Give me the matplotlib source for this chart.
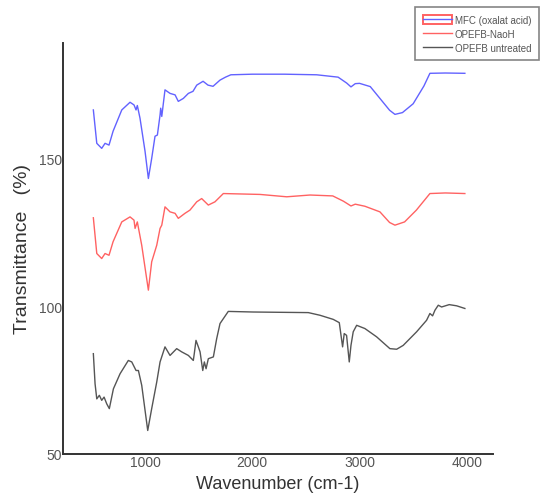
import matplotlib
matplotlib.use("Agg")
import matplotlib.pyplot as plt
from matplotlib.patches import Patch

plt.rcParams['font.family'] = ['Liberation Sans', 'DejaVu Sans']

# MFC (oxalat acid)
w_mfc = [518, 550, 596, 627, 664, 702, 783, 860, 897, 916, 928, 953, 1000, 1031,
         1062, 1093, 1115, 1140, 1146, 1156, 1186, 1233, 1280, 1310, 1357, 1404,
         1447, 1482, 1541, 1587, 1634, 1699, 1750, 1800, 2000, 2300, 2600, 2800,
         2880, 2920, 2960, 3000, 3100, 3190, 3280, 3330, 3400, 3500, 3600, 3656,
         3800, 3982]
t_mfc = [166.4, 155.1, 153.4, 155.1, 154.5, 159.2, 166.4, 169.0, 168.1, 166.4,
         167.9, 163.6, 152.4, 143.2, 150.0, 157.5, 157.9, 164.7, 167.0, 164.2,
         173.2, 172.0, 171.5, 169.3, 170.3, 172.0, 172.7, 174.8, 176.1, 174.8,
         174.4, 176.5, 177.5, 178.3, 178.5, 178.5, 178.3, 177.5, 175.5, 174.2,
         175.3, 175.4, 174.3, 170.3, 166.3, 164.9, 165.5, 168.5, 174.5, 178.8,
         178.9, 178.8]

# OPEFB-NaoH
w_naoh = [518, 550, 596, 627, 664, 702, 783, 860, 897, 907, 928, 969, 1031, 1062,
          1109, 1140, 1156, 1186, 1233, 1280, 1310, 1372, 1419, 1482, 1528, 1590,
          1652, 1730, 2072, 2321, 2538, 2750, 2850, 2920, 2960, 3050, 3190, 3280,
          3330, 3420, 3530, 3656, 3800, 3982]
t_naoh = [129.9, 117.8, 116.1, 117.8, 117.2, 121.8, 128.5, 130.2, 129.1, 126.3,
          128.5, 120.6, 105.4, 115.0, 120.6, 126.3, 127.4, 133.6, 131.9, 131.4,
          129.7, 131.4, 132.5, 135.3, 136.4, 134.2, 135.3, 138.1, 137.8, 137.0,
          137.6, 137.3, 135.5, 133.9, 134.5, 133.8, 131.9, 128.3, 127.4, 128.5,
          132.5, 138.1, 138.3, 138.1]

# OPEFB untreated
w_raw = [518, 534, 550, 574, 596, 618, 643, 667, 705, 767, 844, 876, 916, 938, 969,
         1025, 1062, 1109, 1140, 1186, 1233, 1295, 1342, 1404, 1450, 1459, 1475,
         1497, 1513, 1538, 1553, 1569, 1590, 1637, 1668, 1699, 1776, 2009, 2258,
         2522, 2631, 2755, 2811, 2842, 2857, 2879, 2904, 2920, 2941, 2973, 3050,
         3159, 3283, 3346, 3407, 3532, 3625, 3656, 3681, 3703, 3734, 3765, 3836,
         3905, 3982]
t_raw = [83.9, 73.7, 68.6, 69.8, 68.1, 69.2, 66.9, 65.3, 72.0, 77.1, 81.6, 81.1,
         78.2, 78.2, 73.2, 57.9, 65.3, 74.3, 81.1, 86.2, 83.3, 85.6, 84.5, 83.3,
         81.6, 83.9, 88.4, 86.2, 84.5, 78.2, 81.1, 78.8, 82.2, 82.8, 89.0, 94.1,
         98.2, 98.0, 97.9, 97.8, 96.9, 95.5, 94.4, 86.2, 90.7, 90.1, 81.1, 86.7,
         91.3, 93.5, 92.4, 89.6, 85.6, 85.4, 86.7, 91.3, 95.2, 97.5, 96.7, 98.6,
         100.3, 99.7, 100.5, 100.1, 99.2]

fig = plt.figure(figsize=(5.44, 5.02), dpi=100)
ax = fig.add_axes([0.116, 0.094, 0.79, 0.818])

l1, = ax.plot(w_mfc, t_mfc, color='#6262ff', lw=1.0)
l2, = ax.plot(w_naoh, t_naoh, color='#ff6262', lw=1.0)
l3, = ax.plot(w_raw, t_raw, color='#555555', lw=1.0)

ax.set_xlim(236, 4243)
ax.set_ylim(50, 189)
ax.set_xticks([1000, 2000, 3000, 4000])
ax.set_yticks([50, 100, 150])
ax.tick_params(length=0, pad=1, labelsize=10, labelcolor='#555555')
for s in ['top', 'right']:
    ax.spines[s].set_visible(False)
for s in ['left', 'bottom']:
    ax.spines[s].set_color('#333333')
    ax.spines[s].set_linewidth(1.4)

ax.set_xlabel('Wavenumber (cm-1)', fontsize=13, color='#333333', labelpad=4)
ax.set_ylabel('Transmittance   (%)', fontsize=14, color='#333333')
ax.yaxis.set_label_coords(-0.075, 0.5)

box = Patch(facecolor='none', edgecolor='#ff6262', lw=1.4)
leg = fig.legend([(box, l1), l2, l3],
                 ['MFC (oxalat acid)', 'OPEFB-NaoH', 'OPEFB untreated'],
                 loc='upper right', bbox_to_anchor=(0.991, 0.984),
                 fontsize=7, frameon=True, fancybox=False, handlelength=3.0,
                 handleheight=1.0, labelspacing=0.4, borderpad=0.8,
                 handletextpad=0.3, borderaxespad=0)
leg.get_frame().set_edgecolor('#666666')
leg.get_frame().set_linewidth(1.2)
for t in leg.get_texts():
    t.set_color('#555555')

fig.savefig('out.png', dpi=100)
